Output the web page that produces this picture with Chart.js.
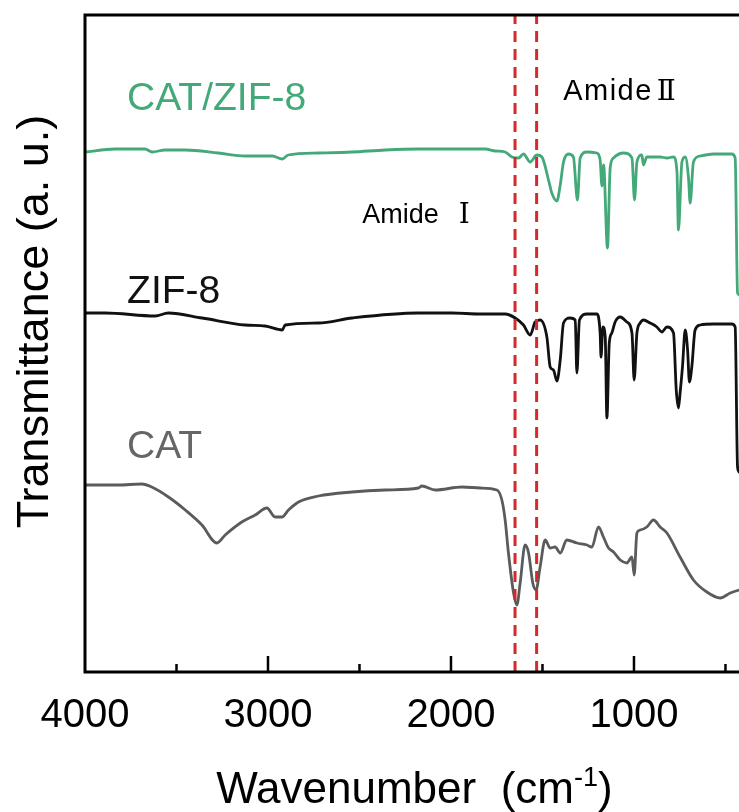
<!DOCTYPE html>
<html lang="en">
<head>
<meta charset="UTF-8">
<title>FTIR spectra - CAT, ZIF-8, CAT/ZIF-8</title>
<script src="https://cdn.jsdelivr.net/npm/chart.js"></script>
<style>
  html, body { margin: 0; padding: 0; background: #fff; overflow: hidden; }
  canvas { display: block; }
</style>
</head>
<body>
<canvas id="ftirChart" width="745" height="812"></canvas>
<script>
// Spectra: wavenumber (cm-1) and stacked transmittance (a.u.)
const catZifWn = [4000, 3836, 3672, 3633, 3562, 3452, 3272, 3125, 2977, 2922, 2890, 2726, 2540, 2360, 2179, 1813, 1758, 1704, 1667, 1631,
  1604, 1567, 1531, 1503, 1467, 1449, 1421, 1403, 1385, 1358, 1331, 1309, 1294, 1257, 1203, 1185, 1175, 1166, 1145, 1130,
  1112, 1057, 1011, 997, 984, 957, 948, 930, 857, 820, 784, 765, 757, 738, 720, 702, 693, 675, 638, 566, 465, 447, 434, 425, 400];
const catZifT = [520, 523, 523, 520, 522, 522, 519, 516, 516, 513, 517, 519, 520, 522, 523, 523, 521, 520, 515, 514,
  518, 510, 517, 515, 492, 479, 471, 487, 510, 518, 515, 472, 514, 520, 519, 512, 486, 507, 424, 504,
  514, 519, 514, 472, 510, 517, 507, 515, 515, 514, 515, 500, 442, 510, 515, 494, 469, 510, 516, 518, 518, 514, 379, 377, 372];

const zifWn = [4000, 3890, 3616, 3545, 3360, 3125, 3016, 2922, 2906, 2726, 2540, 2179, 1994, 1840, 1704, 1649, 1604, 1567, 1540, 1513,
  1476, 1458, 1440, 1421, 1403, 1385, 1349, 1321, 1312, 1298, 1257, 1203, 1185, 1180, 1170, 1157, 1148, 1135, 1121, 1103,
  1075, 1039, 1011, 999, 984, 966, 948, 912, 875, 848, 820, 784, 769, 757, 748, 735, 720, 707, 697, 684, 666, 638, 566, 465, 447, 434, 425, 400];
const zifT = [359, 359, 356, 359, 354, 347, 346, 342, 347, 349, 354, 359, 359, 358, 358, 354, 347, 337, 350, 352,
  335, 305, 302, 291, 312, 349, 354, 352, 299, 352, 358, 358, 339, 315, 345, 335, 254, 329, 339, 350,
  355, 350, 339, 292, 339, 349, 352, 349, 345, 340, 345, 339, 282, 264, 279, 305, 342, 322, 290, 305, 342, 347, 348, 348, 345, 205, 200, 195];

const catWn = [4000, 3817, 3689, 3635, 3544, 3452, 3361, 3279, 3234, 3143, 3070, 3006, 2961, 2924, 2888, 2833, 2724, 2541, 2360, 2178,
  2159, 2086, 1940, 1840, 1749, 1722, 1704, 1686, 1658, 1640, 1622, 1595, 1576, 1553, 1535, 1513, 1485, 1458, 1431, 1403,
  1367, 1312, 1257, 1230, 1194, 1167, 1139, 1112, 1075, 1039, 1011, 999, 984, 966, 930, 893, 857, 820, 748, 675, 602, 529, 474, 425, 400];
const catT = [187, 187, 188, 185, 175, 162, 147, 129, 137, 150, 157, 164, 155, 155, 162, 170, 176, 180, 182, 184,
  186, 182, 185, 184, 182, 172, 152, 119, 79, 67, 89, 127, 119, 89, 82, 105, 132, 124, 125, 119,
  132, 129, 127, 125, 145, 135, 124, 120, 112, 109, 115, 97, 139, 142, 145, 152, 145, 139, 115, 92, 80, 74, 79, 82, 83];

// amide I / amide II band positions (dashed markers)
const amideBands = [1650, 1532];

const xTicks = [4000, 3500, 3000, 2500, 2000, 1500, 1000, 500];
const xLabels = [4000, 3000, 2000, 1000];

const FONT = '"Liberation Sans", Arial, sans-serif';
const NUM_FONT = '"DejaVu Serif", "Liberation Serif", serif';
Chart.defaults.font.family = FONT;

const GREEN = '#44a979';
const GREY = '#5b5b5b';

const pts = (wn, t) => wn.map((x, i) => ({ x: x, y: t[i] }));

const seriesLabels = [
  { text: 'CAT/ZIF-8', wn: 3770, t: 562, color: GREEN },
  { text: 'ZIF-8', wn: 3770, t: 369, color: '#111' },
  { text: 'CAT', wn: 3770, t: 214, color: '#666' }
];
// word + roman numeral, numeral placed after a gap (px)
const bandLabels = [
  { word: 'Amide', num: '\u2160', size: 27, gap: 20, spacing: 0, wn: 2485, t: 449 },
  { word: 'Amide', num: '\u2161', size: 29, gap: 4, spacing: 1.5, wn: 1387, t: 572 }
];

// box on left/top/bottom + inward tick marks on the wavenumber axis
const framePlugin = {
  id: 'frame',
  afterDatasetsDraw(chart) {
    const { ctx, chartArea: a, scales: { x } } = chart;
    ctx.save();
    ctx.strokeStyle = '#000';
    ctx.lineWidth = 3;
    ctx.beginPath();
    ctx.moveTo(a.right + 3, a.top);
    ctx.lineTo(a.left, a.top);
    ctx.lineTo(a.left, a.bottom);
    ctx.lineTo(a.right + 3, a.bottom);
    ctx.stroke();
    ctx.lineWidth = 2.5;
    xTicks.forEach(v => {
      if (v === 4000) return;
      const px = x.getPixelForValue(v);
      const len = xLabels.includes(v) ? 16 : 8;
      ctx.beginPath();
      ctx.moveTo(px, a.bottom);
      ctx.lineTo(px, a.bottom - len);
      ctx.stroke();
    });
    ctx.restore();
  }
};

// sample names, band names and axis titles
const textPlugin = {
  id: 'texts',
  afterDraw(chart) {
    const { ctx, chartArea: a, scales: { x, y } } = chart;
    ctx.save();
    ctx.textBaseline = 'alphabetic';
    ctx.textAlign = 'left';

    ctx.font = '39px ' + FONT;
    seriesLabels.forEach(l => {
      ctx.fillStyle = l.color;
      ctx.fillText(l.text, x.getPixelForValue(l.wn), y.getPixelForValue(l.t));
    });

    ctx.fillStyle = '#000';
    bandLabels.forEach(l => {
      const px = x.getPixelForValue(l.wn), py = y.getPixelForValue(l.t);
      ctx.font = l.size + 'px ' + FONT;
      ctx.letterSpacing = l.spacing + 'px';
      ctx.fillText(l.word, px, py);
      const w = ctx.measureText(l.word).width;
      ctx.letterSpacing = '0px';
      ctx.font = '28px ' + NUM_FONT;
      ctx.fillText(l.num, px + w + l.gap, py);
    });

    // x title with superscript
    const main = 'Wavenumber  (cm', sup = '-1', close = ')';
    ctx.font = '44px ' + FONT;
    const w1 = ctx.measureText(main).width;
    const w3 = ctx.measureText(close).width;
    ctx.font = '27px ' + FONT;
    const w2 = ctx.measureText(sup).width;
    let sx = (a.left + a.right) / 2 - (w1 + w2 + w3) / 2;
    const base = 803;
    ctx.font = '44px ' + FONT;
    ctx.fillText(main, sx, base);
    sx += w1;
    ctx.font = '27px ' + FONT;
    ctx.fillText(sup, sx, base - 17);
    sx += w2;
    ctx.font = '44px ' + FONT;
    ctx.fillText(close, sx, base);

    // y title
    ctx.font = '45px ' + FONT;
    ctx.textAlign = 'center';
    ctx.translate(48, (a.top + a.bottom) / 2 - 22);
    ctx.rotate(-Math.PI / 2);
    ctx.fillText('Transmittance (a. u.)', 0, 0);
    ctx.restore();
  }
};

const bandSets = amideBands.map(b => ({
  data: [{ x: b, y: 0 }, { x: b, y: 657 }],
  borderColor: '#d42a2a',
  borderWidth: 3,
  borderDash: [11, 7],
  order: 0
}));

const specSet = (wn, t, color) => ({
  data: pts(wn, t),
  borderColor: color,
  borderWidth: 2.8,
  cubicInterpolationMode: 'monotone',
  order: 1
});

new Chart(document.getElementById('ftirChart'), {
  type: 'line',
  data: {
    datasets: [
      ...bandSets,
      specSet(catZifWn, catZifT, GREEN),
      specSet(zifWn, zifT, '#111'),
      specSet(catWn, catT, GREY)
    ]
  },
  options: {
    responsive: false,
    animation: false,
    layout: { padding: { left: 85, right: 1, top: 15, bottom: 53 } },
    plugins: { legend: { display: false }, tooltip: { enabled: false } },
    elements: { point: { radius: 0 } },
    scales: {
      x: {
        type: 'linear',
        reverse: true,
        min: 400,
        max: 4000,
        afterBuildTicks: s => { s.ticks = xTicks.map(v => ({ value: v })); },
        ticks: {
          autoSkip: false,
          maxRotation: 0,
          padding: 19.5,
          color: '#000',
          font: { size: 40 },
          callback: v => xLabels.includes(v) ? String(v) : ''
        },
        grid: { display: false, drawTicks: false },
        border: { display: false }
      },
      y: { display: false, min: 0, max: 657 }
    }
  },
  plugins: [framePlugin, textPlugin]
});
</script>
</body>
</html>
